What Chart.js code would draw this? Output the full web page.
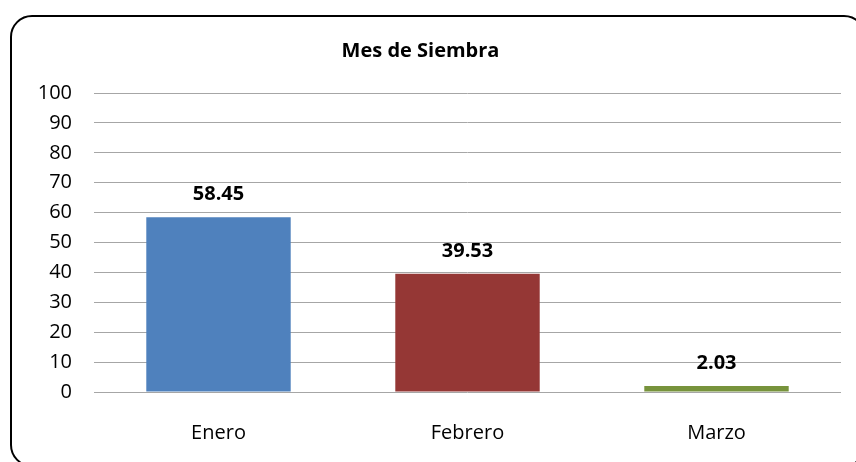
<!doctype html>
<html lang="es">
<head>
<meta charset="utf-8" />
<title>Mes de Siembra</title>
<script src="https://cdn.jsdelivr.net/npm/chart.js@4.4.3/dist/chart.umd.min.js"></script>
<style>
  html, body { margin: 0; padding: 0; background: #fff; overflow: hidden; }
  .frame {
    position: absolute;
    left: 10px; top: 15px;
    width: 852px; height: 448px;
    border: 2px solid #000;
    border-radius: 22px;
  }
  .wrap { position: absolute; left: 0; top: 0; width: 856px; height: 462px; }
</style>
</head>
<body>
<div class="frame"></div>
<div class="wrap"><canvas id="chart" width="856" height="462"></canvas></div>
<script>
  const months = ["Enero", "Febrero", "Marzo"];
  const percentages = [58.45, 39.53, 2.03];
  const barColors = ["#4F81BD", "#953735", "#77933C"];
  const yTicks = [0, 10, 20, 30, 40, 50, 60, 70, 80, 90, 100];

  const valueLabels = {
    id: "valueLabels",
    afterDatasetsDraw(chart) {
      const ctx = chart.ctx;
      const meta = chart.getDatasetMeta(0);
      ctx.save();
      ctx.font = "bold 20px 'Open Sans'";
      ctx.fillStyle = "#000";
      ctx.textAlign = "center";
      ctx.textBaseline = "middle";
      meta.data.forEach((bar, i) => {
        ctx.fillText(percentages[i].toFixed(2), bar.x, bar.y - 23);
      });
      ctx.restore();
    },
  };

  new Chart(document.getElementById("chart"), {
    type: "bar",
    data: {
      labels: months,
      datasets: [{
        data: percentages,
        backgroundColor: barColors,
        barPercentage: 0.58,
        categoryPercentage: 1,
      }],
    },
    options: {
      responsive: false,
      animation: false,
      layout: { padding: { left: 0, right: 15, top: 0, bottom: 20 } },
      plugins: {
        legend: { display: false },
        tooltip: { enabled: false },
        title: {
          display: true,
          text: "Mes de Siembra",
          color: "#000",
          font: { family: "'Open Sans'", size: 20, weight: "bold" },
          padding: { top: 39, bottom: 30 },
        },
      },
      scales: {
        x: {
          afterFit(scale) { scale.height = 50; },
          grid: { display: false, drawTicks: false },
          border: { display: false },
          ticks: { color: "#000", padding: 29, font: { family: "'Open Sans'", size: 20 } },
        },
        y: {
          min: 0,
          max: 100,
          afterFit(scale) { scale.width = 94; },
          afterBuildTicks(scale) { scale.ticks = yTicks.map((v) => ({ value: v })); },
          grid: { color: "#A6A6A6", lineWidth: 1, drawTicks: false },
          border: { display: false },
          ticks: { color: "#000", padding: 22, font: { family: "'Open Sans'", size: 20 } },
        },
      },
    },
    plugins: [valueLabels],
  });
</script>
</body>
</html>
